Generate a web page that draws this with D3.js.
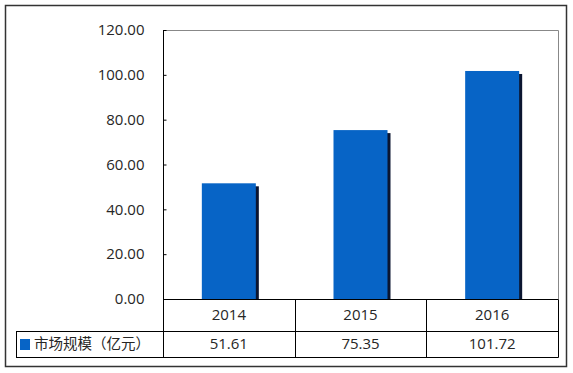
<!DOCTYPE html>
<html>
<head>
<meta charset="utf-8">
<script src="https://cdn.jsdelivr.net/npm/d3@7"></script>
<style>
  body { margin: 0; background: #fff; }
  svg text { font-family: "Open Sans", "Noto Sans CJK SC", sans-serif; fill: #262626; }
</style>
</head>
<body>
<svg width="573" height="373"></svg>
<script>
// chart data
var years      = ["2014", "2015", "2016"];
var marketSize = [51.61, 75.35, 101.72];
var yTicks     = [0, 20, 40, 60, 80, 100, 120];
var seriesName = "市场规模（亿元）";

var svg = d3.select("svg");

// plot area box
var plotLeft = 163, plotRight = 558, plotTop = 30, zeroY = 299;
var rowH1 = 32, rowH2 = 26, tableLeft = 16;

var x = d3.scaleBand().domain(years).range([plotLeft, plotRight]).paddingInner(0).paddingOuter(0);
var y = d3.scaleLinear().domain([0, 120]).range([zeroY, plotTop]);

// outer frame
svg.append("rect")
   .attr("x", 5.5).attr("y", 5.5)
   .attr("width", 561).attr("height", 361)
   .attr("fill", "none").attr("stroke", "#333").attr("stroke-width", 1.5);

// gray top / right border of plot
svg.append("path")
   .attr("d", "M" + plotLeft + "," + (plotTop + 0.5) + "H" + (plotRight + 0.5) + "V" + zeroY)
   .attr("fill", "none").attr("stroke", "#888");

// bars with shadow
var bw = 54;
var bars = svg.append("g");
bars.selectAll("rect.shadow").data(marketSize).enter()
    .append("rect")
    .attr("class", "shadow")
    .attr("x", function(d, i){ return x(years[i]) + x.bandwidth()/2 - bw/2 + 3; })
    .attr("y", function(d){ return y(d) + 3; })
    .attr("width", bw)
    .attr("height", function(d){ return zeroY - y(d) - 3; })
    .attr("fill", "#0b1530");
bars.selectAll("rect.bar").data(marketSize).enter()
    .append("rect")
    .attr("class", "bar")
    .attr("x", function(d, i){ return x(years[i]) + x.bandwidth()/2 - bw/2; })
    .attr("y", function(d){ return y(d); })
    .attr("width", bw)
    .attr("height", function(d){ return zeroY - y(d); })
    .attr("fill", "#0764c6");

// y axis with inside ticks
var yAxis = d3.axisLeft(y).tickValues(yTicks).tickFormat(d3.format(".2f"))
              .tickSize(-3).tickPadding(19);
var yg = svg.append("g").attr("transform", "translate(" + (plotLeft + 0.5) + ",0)").call(yAxis);
yg.select(".domain").remove();
yg.selectAll("line").attr("stroke", "#000");
yg.selectAll("text").style("font-size", "15px").attr("fill", "#262626");

// table lines
var tbl = svg.append("g").attr("stroke", "#000").attr("stroke-width", 1);
var r1 = zeroY + 0.5, r2 = zeroY + rowH1 + 0.5, r3 = zeroY + rowH1 + rowH2 + 0.5;
tbl.append("line").attr("x1", plotLeft).attr("x2", plotRight + 0.5).attr("y1", r1).attr("y2", r1);
tbl.append("line").attr("x1", tableLeft).attr("x2", plotRight + 0.5).attr("y1", r2).attr("y2", r2);
tbl.append("line").attr("x1", tableLeft).attr("x2", plotRight + 0.5).attr("y1", r3).attr("y2", r3);
tbl.append("line").attr("x1", tableLeft + 0.5).attr("x2", tableLeft + 0.5).attr("y1", r2).attr("y2", r3);
tbl.append("line").attr("x1", plotLeft + 0.5).attr("x2", plotLeft + 0.5).attr("y1", plotTop).attr("y2", r3);
years.forEach(function(yr){
  var xx = Math.round(x(yr) + x.bandwidth()) + 0.5;
  tbl.append("line").attr("x1", xx).attr("x2", xx).attr("y1", r1).attr("y2", r3);
});

// year labels
svg.selectAll("text.year").data(years).enter()
   .append("text").attr("class", "year")
   .attr("x", function(d){ return x(d) + x.bandwidth()/2; })
   .attr("y", zeroY + rowH1/2)
   .attr("dy", "0.35em")
   .attr("text-anchor", "middle")
   .style("font-size", "15px")
   .text(function(d){ return d; });

// value labels
svg.selectAll("text.val").data(marketSize).enter()
   .append("text").attr("class", "val")
   .attr("x", function(d, i){ return x(years[i]) + x.bandwidth()/2; })
   .attr("y", zeroY + rowH1 + rowH2/2)
   .attr("dy", "0.35em")
   .attr("text-anchor", "middle")
   .style("font-size", "15px")
   .text(function(d){ return d3.format(".2f")(d); });

// legend key
svg.append("rect")
   .attr("x", 20).attr("y", 339).attr("width", 10).attr("height", 11)
   .attr("fill", "#0764c6");
svg.append("text")
   .attr("x", 34).attr("y", zeroY + rowH1 + rowH2/2)
   .attr("dy", "0.35em")
   .attr("textLength", 116)
   .attr("lengthAdjust", "spacing")
   .style("font-size", "14.5px")
   .style("font-family", "'Noto Sans CJK SC', sans-serif")
   .text(seriesName);
</script>
</body>
</html>
